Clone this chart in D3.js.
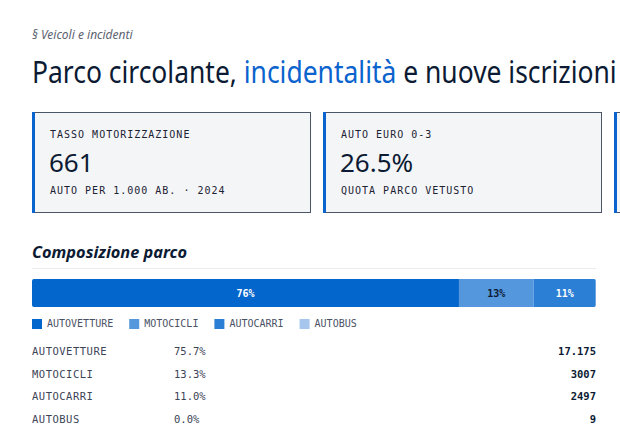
<!doctype html>
<html>
<head>
<meta charset="utf-8">
<style>
  body { margin: 0; background: #fff; }
  svg { display: block; }
  .mono { font-family: "DejaVu Sans Mono", monospace; }
  .sans { font-family: "Noto Sans", sans-serif; }
</style>
<script src="https://d3js.org/d3.v7.min.js"></script>
</head>
<body>
<svg width="620" height="444"></svg>
<script>
// --- dati ---
var kpiLabels = ["TASSO MOTORIZZAZIONE", "AUTO EURO 0-3", ""];
var kpiValues = ["661", "26.5%", ""];
var kpiNotes = ["AUTO PER 1.000 AB. · 2024", "QUOTA PARCO VETUSTO", ""];

var categories = ["AUTOVETTURE", "MOTOCICLI", "AUTOCARRI", "AUTOBUS"];
var values = [17175, 3007, 2497, 9];
var colors = ["#0366cc", "#5597dd", "#2b7fd5", "#a7c6ee"];
var labelColors = ["#fff", "#0c1b33", "#fff", "#0c1b33"];

var svg = d3.select("svg");
var left = 32, right = 596;

// intestazione
svg.append("text")
   .attr("class", "sans")
   .attr("x", left).attr("y", 39)
   .attr("font-size", "12px")
   .attr("font-style", "italic")
   .attr("fill", "#5b6270")
   .text("§ Veicoli e incidenti");

// il titolo viene compresso in orizzontale per stare nella larghezza
var titleG = svg.append("g");
var title = titleG.append("text")
   .attr("class", "sans")
   .attr("x", 0).attr("y", 0)
   .attr("font-size", "30px")
   .attr("fill", "#0c1b33");
title.append("tspan").text("Parco circolante, ");
title.append("tspan").attr("fill", "#0b63ce").text("incidentalità");
title.append("tspan").text(" e nuove iscrizioni");
var tw = title.node().getComputedTextLength();
titleG.attr("transform", "translate(" + left + ",83) scale(" + (585 / tw) + ",1)");

// schede KPI
var cardW = 278, cardGap = 13, cardY = 112, cardH = 100;
var cards = svg.selectAll(".card")
   .data(kpiLabels)
   .enter().append("g")
   .attr("class", "card")
   .attr("transform", function(d, i) { return "translate(" + (left + i * (cardW + cardGap)) + "," + cardY + ")"; });

cards.append("rect")
   .attr("x", 0.5).attr("y", 0.5)
   .attr("width", cardW).attr("height", cardH)
   .attr("fill", "#f4f5f7")
   .attr("stroke", "#4a5568");
cards.append("rect")
   .attr("x", 0).attr("y", 0)
   .attr("width", 3).attr("height", cardH + 1)
   .attr("fill", "#0b63ce");
cards.append("text")
   .attr("class", "mono")
   .attr("x", 18).attr("y", 26)
   .attr("font-size", "10px")
   .attr("letter-spacing", "1px")
   .attr("fill", "#1b2233")
   .text(function(d) { return d; });
cards.append("text")
   .attr("class", "sans")
   .attr("x", 17).attr("y", 60)
   .attr("font-size", "26px")
   .attr("fill", "#0c1b33")
   .text(function(d, i) { return kpiValues[i]; });
cards.append("text")
   .attr("class", "mono")
   .attr("x", 18).attr("y", 82)
   .attr("font-size", "10px")
   .attr("letter-spacing", "1px")
   .attr("fill", "#1b2233")
   .text(function(d, i) { return kpiNotes[i]; });

// composizione parco
svg.append("text")
   .attr("class", "sans")
   .attr("x", left).attr("y", 258)
   .attr("font-size", "16px")
   .attr("font-weight", "bold")
   .attr("font-style", "italic")
   .attr("fill", "#0c1b33")
   .attr("textLength", 155)
   .attr("lengthAdjust", "spacingAndGlyphs")
   .text("Composizione parco");

svg.append("line")
   .attr("x1", left).attr("x2", right)
   .attr("y1", 268.5).attr("y2", 268.5)
   .attr("stroke", "#ececef");

var total = d3.sum(values);
var x = d3.scaleLinear().domain([0, total]).range([left, right]);
var starts = [0];
values.forEach(function(v, i) { starts.push(starts[i] + v); });

var barY = 279, barH = 28;
svg.append("clipPath").attr("id", "barclip")
   .append("rect")
   .attr("x", left).attr("y", barY)
   .attr("width", right - left).attr("height", barH)
   .attr("rx", 2);

var bar = svg.append("g").attr("clip-path", "url(#barclip)");
bar.selectAll("rect")
   .data(values)
   .enter().append("rect")
   .attr("x", function(d, i) { return x(starts[i]); })
   .attr("y", barY)
   .attr("width", function(d) { return x(d) - x(0); })
   .attr("height", barH)
   .attr("fill", function(d, i) { return colors[i]; });

bar.selectAll("text")
   .data(values)
   .enter().append("text")
   .filter(function(d) { return x(d) - x(0) > 24; })
   .attr("class", "mono")
   .attr("x", function(d) { return x(starts[values.indexOf(d)] + d / 2); })
   .attr("y", barY + barH / 2 + 4)
   .attr("text-anchor", "middle")
   .attr("font-size", "10px")
   .attr("font-weight", "bold")
   .attr("fill", function(d) { return labelColors[values.indexOf(d)]; })
   .text(function(d) { return Math.round(d / total * 100) + "%"; });

// legenda
var legend = svg.append("g").attr("transform", "translate(" + left + ",319)");
var lx = 0;
categories.forEach(function(c, i) {
  var item = legend.append("g").attr("transform", "translate(" + lx + ",0)");
  item.append("rect").attr("width", 10).attr("height", 10).attr("fill", colors[i]);
  item.append("text")
     .attr("class", "mono")
     .attr("x", 15).attr("y", 8)
     .attr("font-size", "10px")
     .attr("fill", "#4a5266")
     .text(c);
  lx += 15 + c.length * 6.02 + 16;
});

// tabella
function fmtIt(v) {
  if (v < 10000) return String(v);
  return d3.format(",")(v).replace(/,/g, ".");
}
var rowY = d3.scaleBand().domain(categories).range([340, 430]);
var rows = svg.selectAll(".row")
   .data(categories)
   .enter().append("g")
   .attr("class", "row")
   .attr("transform", function(d) { return "translate(0," + (rowY(d) + 15) + ")"; });
rows.append("text")
   .attr("class", "mono")
   .attr("x", left)
   .attr("font-size", "10.5px")
   .attr("letter-spacing", "0.5px")
   .attr("fill", "#3c4456")
   .text(function(d) { return d; });
rows.append("text")
   .attr("class", "mono")
   .attr("x", 174)
   .attr("font-size", "10.5px")
   .attr("fill", "#3c4456")
   .text(function(d, i) { return (values[i] / total * 100).toFixed(1) + "%"; });
rows.append("text")
   .attr("class", "mono")
   .attr("x", right)
   .attr("text-anchor", "end")
   .attr("font-size", "10.5px")
   .attr("font-weight", "bold")
   .attr("fill", "#0c1b33")
   .text(function(d, i) { return fmtIt(values[i]); });
</script>
</body>
</html>
